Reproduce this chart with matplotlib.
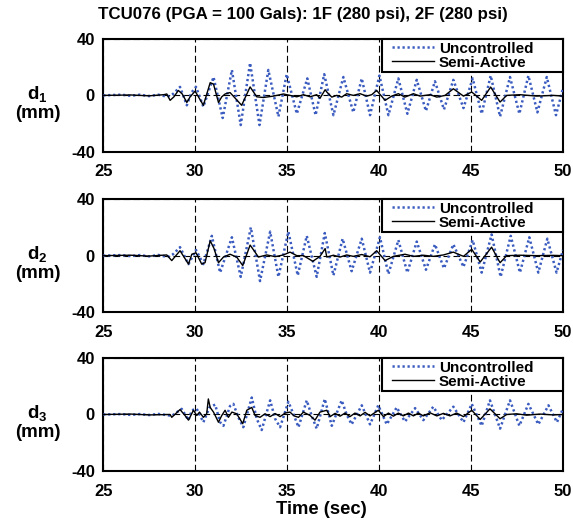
import numpy as np
import matplotlib.pyplot as plt
from matplotlib.patches import Rectangle

plt.rcParams['font.family'] = 'Liberation Sans'
plt.rcParams['font.weight'] = 'bold'
plt.rcParams['axes.unicode_minus'] = False
plt.rcParams['mathtext.fontset'] = 'custom'
plt.rcParams['mathtext.rm'] = 'Liberation Sans:bold'
plt.rcParams['mathtext.it'] = 'Liberation Sans:bold'
plt.rcParams['mathtext.bf'] = 'Liberation Sans:bold'
plt.rcParams['mathtext.default'] = 'rm'

# ---- floor 1 displacement (mm) ----
t1_unc = [25.0, 26.0, 26.5, 27.0, 27.5, 28.0, 28.5, 28.8, 29.18, 29.55, 29.8, 30.05, 30.45,
          31.0, 31.5, 32.0, 32.48, 32.99, 33.5, 33.98, 34.53, 34.98, 35.53, 36.1, 36.55,
          37.02, 37.52, 38.06, 38.6, 39.06, 39.51, 40.02, 40.51, 41.05, 41.54, 42.05, 42.55,
          43.04, 43.53, 44.04, 44.59, 45.09, 45.58, 46.07, 46.58, 47.12, 47.63, 48.12, 48.61,
          49.12, 49.62, 50.0]
d1_unc = [0, 0.5, -0.3, 0.5, -0.5, 0.5, -1, 1, 6, -7, 2, 6, -8,
          13, -16, 18, -21, 23, -21, 18, -15, 15, -13, 12, -14,
          15, -14, 13, -12, 12, -14, 14, -14, 12, -13, 11, -11,
          10, -10, 11, -9, 12, -13, 14, -15, 13, -13, 14, -12,
          13, -14, 5]
t1_semi = [25.0, 26.5, 27.5, 28.3, 28.46, 28.64, 28.85, 29.09, 29.3, 29.55, 29.73, 30.0, 30.18,
           30.45, 30.82, 31.0, 31.27, 31.45, 31.63, 31.9, 32.53, 32.99, 33.35, 33.71, 34.26,
           34.8, 35.16, 35.53, 35.89, 36.25, 36.61, 36.79, 37.07, 37.16, 37.43, 37.7, 37.97,
           38.24, 38.6, 38.97, 39.33, 39.6, 39.87, 40.33, 40.69, 41.05, 41.41, 41.87, 42.23,
           42.77, 43.14, 43.59, 44.04, 44.59, 45.04, 45.58, 46.07, 46.58, 46.94, 47.66, 48.57,
           49.47, 50.0]
d1_semi = [0, 0.3, -0.3, 0.5, 1, -3.5, -1, 3.5, 1, -5, -1, 3, -1,
           -7, 9, 8, -5, -1, 1, 2, -7, 6, -1, -1.5, -0.5,
           1, 0, -1, 0.5, -1, 0.5, -2, 4, 2.4, -1.2, 0, -1.2,
           1.2, 0, 1.2, -0.5, 0.5, 3.5, -3.5, -0.5, 1.2, -1.2, 1.2, -0.5,
           0.5, -1.2, 0, 4.7, -0.5, 2.4, -3.5, 5.9, -4.7, 0, 0.5, -0.5,
           0, -0.5]

# ---- floor 2 ----
t2_unc = [25.0, 26.0, 26.5, 27.0, 27.5, 28.0, 28.5, 28.8, 29.18, 29.64, 30.05, 30.45, 30.91,
          31.36, 32.0, 32.48, 33.03, 33.53, 34.08, 34.53, 35.07, 35.58, 36.07, 36.61, 37.05,
          37.52, 38.02, 38.51, 39.06, 39.51, 40.05, 40.51, 41.05, 41.54, 42.05, 42.55, 43.04,
          43.53, 44.04, 44.59, 45.09, 45.58, 46.12, 46.61, 47.16, 47.66, 48.17, 48.66, 49.15,
          49.65, 50.0]
d2_unc = [0, 0.4, -0.3, 0.4, -0.5, 0.5, -1, 1, 6, -6, 4, -6, 14,
          -12, 13, -15, 20, -18, 17, -15, 17, -14, 14, -15, 16,
          -14, 12, -11, 12, -12, 13, -13, 11, -12, 10, -10, 8,
          -9, 8, -8, 11, -12, 15, -15, 14, -12, 13, -12, 12,
          -12, 4]
t2_semi = [25.0, 26.5, 27.5, 28.46, 28.73, 29.18, 29.64, 29.82, 30.05, 30.36, 30.54, 30.82,
           31.03, 31.27, 31.54, 31.9, 32.26, 32.59, 32.99, 33.26, 33.44, 33.9, 34.35, 34.8,
           35.16, 35.53, 35.89, 36.4, 36.79, 37.07, 37.16, 37.52, 37.88, 38.24, 38.6, 39.06,
           39.51, 39.87, 40.33, 40.78, 41.41, 41.87, 42.41, 42.95, 43.5, 44.04, 44.59, 45.04,
           45.5, 46.12, 46.58, 46.94, 47.66, 48.57, 49.47, 50.0]
d2_semi = [0, 0.3, -0.3, 0.5, -3.5, 3.5, -6, 1, 2, -6, -5, 10.5,
           5, -5, -1, 1, -1, -7, 7.5, 2.5, -1, 0.5, -0.7, 0.5,
           2.5, 0, 0, -4, -0.5, 5, -1, 0.3, -1, 0.5, -0.5, 0.8,
           -0.8, 3.5, -3.5, -0.5, 1, -0.5, 0.3, -0.5, 0.5, 2.5, -0.5, 4.5,
           -4.5, 6, -5, 0, 0.3, 0, 0.2, 0]

# ---- floor 3 ----
t3_unc = [25.0, 26.0, 26.5, 27.0, 27.5, 28.0, 28.5, 28.73, 29.27, 29.64, 29.82, 30.09, 30.45,
          30.78, 31.09, 31.36, 31.54, 31.9, 32.08, 32.35, 32.62, 33.08, 33.35, 33.62, 34.08,
          34.35, 34.62, 35.07, 35.34, 35.62, 36.07, 36.34, 36.61, 37.05, 37.43, 37.97, 38.24,
          38.51, 39.06, 39.51, 39.96, 40.42, 40.96, 41.41, 41.96, 42.41, 42.95, 43.41, 44.04,
          44.59, 45.04, 45.58, 46.03, 46.58, 47.12, 47.63, 48.12, 48.66, 49.21, 49.67, 50.0]
d3_unc = [0, 0.3, -0.3, 0.3, -0.4, 0.4, -0.5, -1, 4, -4, 3, 4, -5.5,
          5, 7, -5.5, -8, 6, 7.5, -2, -9, 12, -3, -11, 10,
          -3, -9, 9, 0.5, -9, 10, -1, -10, 11, -8, 10, 0,
          -7, 6.5, -7, 6.5, -7, 5, -5, 4.5, -4, 5.5, -4, 5.5,
          -5.5, 7.5, -8, 10, -10, 10, -8, 7.5, -7, 6.5, -5.5, 4]
t3_semi = [25.0, 26.5, 27.5, 28.64, 28.73, 29.18, 29.45, 29.64, 29.91, 30.09, 30.24, 30.45,
           30.63, 30.72, 30.82, 31.0, 31.14, 31.27, 31.45, 31.63, 31.81, 32.0, 32.26, 32.59,
           32.81, 33.08, 33.26, 33.53, 33.8, 34.08, 34.35, 34.62, 34.89, 35.16, 35.38, 35.62,
           35.89, 36.25, 36.52, 36.79, 37.16, 37.34, 37.61, 37.88, 38.15, 38.42, 38.69, 38.97,
           39.24, 39.51, 39.96, 40.24, 40.51, 40.78, 41.05, 41.32, 41.6, 41.87, 42.14, 42.41,
           42.77, 43.14, 43.5, 43.86, 44.22, 44.59, 45.04, 45.5, 46.03, 46.58, 46.94, 47.48,
           48.03, 48.75, 49.47, 50.0]
d3_semi = [0, 0.3, -0.3, 0, -2, 3.5, -0.7, -4, 3, -0.7, 1.7, -2,
           0.5, 11, 5, 1.7, -2, -5.5, -0.7, 3, -2, 1.7, 0.5, -6.5,
           3, 5, -0.7, -2, 0.5, -1.5, 0.7, -1.5, 1, 1.7, -1, -2,
           1.7, -0.7, -4, 1.7, 3, -1.5, 0.8, -1.2, 1, -1.5, 1, -1,
           1.5, -1, 3, -1.5, 1, -1.2, 1, -1, 1, -1, 1, -1,
           1.2, -1, 0.8, -1, 1, -1.5, 3, -3.5, 4, -3, 0, 0.5,
           -0.5, 0.3, -0.3, 0]

panels = [(t1_unc, d1_unc, t1_semi, d1_semi, '1'),
          (t2_unc, d2_unc, t2_semi, d2_semi, '2'),
          (t3_unc, d3_unc, t3_semi, d3_semi, '3')]

fig = plt.figure(figsize=(5.73, 5.22), dpi=100)
bottoms = [0.709, 0.402, 0.0977]

for (tu, du, ts, ds, n), b in zip(panels, bottoms):
    ax = fig.add_axes([0.180, b, 0.8025, 0.2165])
    ax.plot(tu, du, linestyle=(0, (0.9, 1.1)), color='#3a5bbf', lw=1.8, label='Uncontrolled', zorder=3)
    ax.plot(ts, ds, color='k', lw=1.0, label='Semi-Active', zorder=4)
    ax.set_xlim(25, 50)
    ax.set_ylim(-40, 40)
    ax.set_xticks([25, 30, 35, 40, 45, 50])
    ax.set_yticks([-40, 0, 40])
    ax.grid(True, color='k', linestyle=(0, (6, 3)), lw=0.8)
    ax.tick_params(length=0, labelsize=12)
    ax.tick_params(axis='x', pad=9)
    ax.tick_params(axis='y', pad=6)
    for s in ax.spines.values():
        s.set_linewidth(1.5)
    ax.set_ylabel('d$_{' + n + '}$\n(mm)', rotation=0, fontsize=13.5, fontweight='bold',
                  ha='center', va='center', linespacing=1.05)
    ax.yaxis.set_label_coords(-0.143, 0.435)
    # legend box sits flush in the upper right corner
    box = Rectangle((0.6065, 0.708), 0.3935, 0.292, transform=ax.transAxes, facecolor='white',
                    edgecolor='k', lw=1.5, zorder=5, clip_on=False)
    ax.add_patch(box)
    leg = ax.legend(loc='upper left', bbox_to_anchor=(0.624, 0.99), borderaxespad=0,
                    frameon=False, fontsize=11, handlelength=2.75, labelspacing=0.0,
                    borderpad=0.1, handletextpad=0.35)
    leg.set_zorder(6)

fig.text(0.529, 1 - 15 / 522, 'TCU076 (PGA = 100 Gals): 1F (280 psi), 2F (280 psi)',
         ha='center', va='center', fontsize=12.2)
fig.text(321 / 573, 1 - 509 / 522, 'Time (sec)', ha='center', va='center', fontsize=13.3)

fig.savefig('out.png', dpi=100)
